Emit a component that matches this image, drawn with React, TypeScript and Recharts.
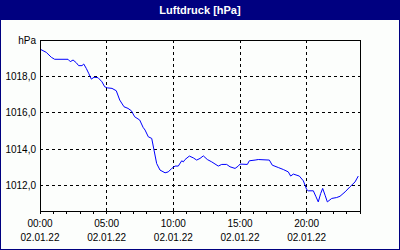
import React from 'react';
import { LineChart, Line, XAxis, YAxis, ReferenceLine } from 'recharts';

// hours since 00:00 on 02.01.22
const hours = [
  0, 0.47, 0.85, 1.1, 2.1, 2.27, 2.48, 2.72, 2.9, 3.15, 3.28, 3.47, 3.65, 3.85, 4.05, 4.35, 4.65, 4.85,
  5.05, 5.4, 5.72, 5.98, 6.3, 6.6, 6.85, 7.1, 7.48, 7.73, 7.88, 8.12, 8.38, 8.55, 8.75, 9.0, 9.38, 9.62,
  9.88, 10.13, 10.37, 10.63, 10.75, 10.88, 11.2, 11.5, 11.75, 12.0, 12.25, 12.55, 12.88, 13.37, 13.63,
  14.0, 14.25, 14.63, 14.87, 15.0, 15.55, 15.7, 16.13, 16.37, 17.2, 17.42, 17.87, 18.25, 18.62, 18.8,
  19.0, 19.45, 19.75, 20.0, 20.12, 20.5, 20.7, 20.87, 21.05, 21.2, 21.38, 21.55, 21.88, 22.25, 22.5,
  22.88, 23.25, 23.63, 23.87,
];

const pressure = [
  1019.5, 1019.32, 1019.05, 1018.94, 1018.94, 1018.81, 1018.9, 1018.75, 1018.59, 1018.59, 1018.68,
  1018.44, 1018.17, 1017.85, 1017.95, 1017.93, 1017.7, 1017.43, 1017.37, 1017.34, 1017.21, 1016.7,
  1016.33, 1016.24, 1016.11, 1015.78, 1015.6, 1015.2, 1015.05, 1014.68, 1014.59, 1013.95, 1013.21,
  1012.85, 1012.7, 1012.75, 1012.94, 1013.07, 1013.07, 1013.36, 1013.3, 1013.43, 1013.62, 1013.52,
  1013.4, 1013.49, 1013.63, 1013.43, 1013.3, 1013.07, 1013.16, 1013.16, 1013.03, 1012.94, 1013.07,
  1013.18, 1013.16, 1013.36, 1013.4, 1013.43, 1013.4, 1013.12, 1012.99, 1012.88, 1012.75, 1012.52,
  1012.63, 1012.52, 1012.26, 1011.78, 1011.71, 1011.71, 1011.38, 1011.1, 1011.56, 1011.84, 1011.47,
  1011.1, 1011.29, 1011.34, 1011.41, 1011.65, 1011.93, 1012.2, 1012.52,
];

const hourTicks = [0, 1, 2, 3, 4, 5, 6, 7, 8, 9, 10, 11, 12, 13, 14, 15, 16, 17, 18, 19, 20, 21, 22, 23, 24];
const labelledHours = [0, 5, 10, 15, 20];
const dateLabel = '02.01.22';
const yTicks = [1012, 1014, 1016, 1018, 1020];
const gridY = [1012, 1014, 1016, 1018];
const gridX = [5, 10, 15, 20];

const data = hours.map((t, i) => ({ t, v: pressure[i] }));

const FONT = 'Liberation Sans';
const NAVY = '#000080';

const TimeTick = ({ x, y, payload }: any) => {
  if (!labelledHours.includes(payload.value)) return null;
  const hh = String(payload.value).padStart(2, '0') + ':00';
  return (
    <g>
      <text x={x} y={y + 13} textAnchor="middle" fontSize={10} fontFamily={FONT} fill="#000">
        {hh}
      </text>
      <text x={x} y={y + 27} textAnchor="middle" fontSize={10} fontFamily={FONT} fill="#000">
        {dateLabel}
      </text>
    </g>
  );
};

const formatY = (v: number) => (v === 1020 ? 'hPa' : v.toFixed(1).replace('.', ','));

export default function App() {
  return (
    <div style={{ position: 'absolute', left: 0, top: 0, width: 400, height: 250, background: '#fcfefc' }}>
      <div
        style={{
          position: 'absolute', left: 0, top: 0, width: 400, height: 20, background: NAVY, color: '#fff',
          fontFamily: FONT, fontWeight: 'bold', fontSize: 11, lineHeight: '20px', textAlign: 'center',
        }}
      >
        Luftdruck [hPa]
      </div>
      <div style={{ position: 'absolute', left: 0, top: 0 }}>
        <LineChart width={400} height={250} data={data} margin={{ top: 40, right: 40, left: 0, bottom: 0 }}>
          <XAxis
            type="number"
            dataKey="t"
            domain={[0, 24]}
            ticks={hourTicks}
            interval={0}
            height={39}
            tickSize={3}
            tickMargin={0}
            stroke="#000"
            tickLine={{ stroke: '#000', shapeRendering: 'crispEdges' }}
            axisLine={{ stroke: '#000', shapeRendering: 'crispEdges' }}
            tick={<TimeTick />}
          />
          <YAxis
            type="number"
            domain={[1010.6, 1020]}
            ticks={yTicks}
            interval={0}
            width={40}
            tickSize={4}
            tickMargin={0}
            tickLine={false}
            axisLine={{ stroke: '#000', shapeRendering: 'crispEdges' }}
            tickFormatter={formatY}
            tick={{ fontSize: 10, fontFamily: FONT, fill: '#000' }}
          />
          {gridY.map((v) => (
            <ReferenceLine key={'gy' + v} y={v} stroke="#000" strokeDasharray="3 3" shapeRendering="crispEdges" />
          ))}
          {gridX.map((v) => (
            <ReferenceLine key={'gx' + v} x={v} stroke="#000" strokeDasharray="3 3" shapeRendering="crispEdges" />
          ))}
          <ReferenceLine y={1020} stroke="#000" shapeRendering="crispEdges" />
          <ReferenceLine x={24} stroke="#000" shapeRendering="crispEdges" />
          <Line type="linear" dataKey="v" stroke="#0000ff" strokeWidth={1} dot={false} isAnimationActive={false} />
        </LineChart>
      </div>
      <div
        style={{
          position: 'absolute', left: 0, top: 0, width: 400, height: 250, boxSizing: 'border-box',
          border: `1px solid ${NAVY}`, pointerEvents: 'none',
        }}
      />
    </div>
  );
}
